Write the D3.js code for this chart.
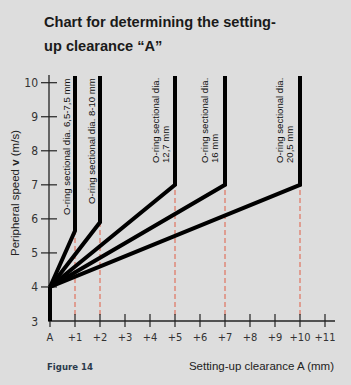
<!DOCTYPE html>
<html>
<head>
<meta charset="utf-8">
<script src="https://cdn.jsdelivr.net/npm/d3@7"></script>
<style>
  body { margin: 0; background: #dddddd; }
  svg { display: block; }
</style>
</head>
<body>
<div id="chart"></div>
<script>
var width = 351;
var height = 385;

// data
var clearance = [1, 2, 5, 7, 10];           // mm, where each curve turns vertical
var kinkSpeed = [5.65, 5.9, 7, 7, 7];        // m/s at the kink
var startSpeed = 4;
var baseSpeed = 3;
var topSpeed = 10.2;
var ringLabels = [
  ["O-ring sectional dia. 6,5-7,5 mm"],
  ["O-ring sectional dia. 8-10 mm"],
  ["O-ring sectional dia.", "12,7 mm"],
  ["O-ring sectional dia.", "16 mm"],
  ["O-ring sectional dia.", "20,5 mm"]
];
var yTicks = [3, 4, 5, 6, 7, 8, 9, 10];
var xTicks = [0, 1, 2, 3, 4, 5, 6, 7, 8, 9, 10, 11];
var xTickLabels = ["A", "+1", "+2", "+3", "+4", "+5", "+6", "+7", "+8", "+9", "+10", "+11"];

var svg = d3.select("#chart")
  .append("svg")
  .attr("width", width)
  .attr("height", height);

svg.append("rect")
  .attr("width", width)
  .attr("height", height)
  .attr("fill", "#dddddd");

var x = d3.scaleLinear().domain([0, 11]).range([50, 325]);
var y = d3.scaleLinear().domain([3, 10]).range([321, 82.7]);

var tickFont = "'DejaVu Sans Condensed', 'Liberation Sans Narrow', sans-serif";
var textFont = "'Liberation Sans', Arial, sans-serif";

// title
svg.append("text")
  .attr("x", 44).attr("y", 27)
  .style("font", "bold 14.6px " + textFont)
  .attr("fill", "#1a1a1a")
  .text("Chart for determining the setting-");
svg.append("text")
  .attr("x", 44).attr("y", 50.5)
  .style("font", "bold 14.6px " + textFont)
  .attr("fill", "#1a1a1a")
  .text("up clearance \u201cA\u201d");

// red dashed guides
svg.selectAll(".guide")
  .data(clearance)
  .enter().append("line")
  .attr("class", "guide")
  .attr("x1", function(d) { return x(d); })
  .attr("x2", function(d) { return x(d); })
  .attr("y1", y(baseSpeed) - 6)
  .attr("y2", function(d, i) { return y(kinkSpeed[i]); })
  .attr("stroke", "#e0735f")
  .attr("stroke-width", 1.2)
  .attr("stroke-dasharray", "5,3");

// axes
var yAxisG = svg.append("g");
yAxisG.append("line")
  .attr("x1", 49).attr("x2", 49)
  .attr("y1", 75).attr("y2", y(baseSpeed) + 1)
  .attr("stroke", "#222").attr("stroke-width", 1.3);
yAxisG.selectAll(".ytick")
  .data(yTicks.filter(function(d) { return d > 3; }))
  .enter().append("line")
  .attr("x1", 41).attr("x2", 57)
  .attr("y1", function(d) { return y(d); })
  .attr("y2", function(d) { return y(d); })
  .attr("stroke", "#222").attr("stroke-width", 1.2);
yAxisG.selectAll(".ylab")
  .data(yTicks)
  .enter().append("text")
  .attr("x", 38)
  .attr("y", function(d) { return y(d) + 4.5; })
  .attr("text-anchor", "end")
  .style("font", "12px " + tickFont)
  .attr("fill", "#333")
  .text(function(d) { return d; });

var xAxisG = svg.append("g");
xAxisG.append("line")
  .attr("x1", 49).attr("x2", 335)
  .attr("y1", y(baseSpeed)).attr("y2", y(baseSpeed))
  .attr("stroke", "#222").attr("stroke-width", 1.3);
xAxisG.selectAll(".xtick")
  .data(xTicks)
  .enter().append("line")
  .attr("x1", function(d) { return x(d); })
  .attr("x2", function(d) { return x(d); })
  .attr("y1", y(baseSpeed) - 7)
  .attr("y2", y(baseSpeed) + 6)
  .attr("stroke", "#222").attr("stroke-width", 1.2);
xAxisG.selectAll(".xlab")
  .data(xTicks)
  .enter().append("text")
  .attr("x", function(d) { return x(d); })
  .attr("y", 341)
  .attr("text-anchor", "middle")
  .style("font", "11px " + tickFont)
  .attr("fill", "#333")
  .text(function(d, i) { return xTickLabels[i]; });

// axis titles
var yTitle = svg.append("text")
  .attr("transform", "translate(19,193) rotate(-90)")
  .attr("text-anchor", "middle")
  .style("font", "11.5px " + textFont)
  .attr("fill", "#222");
yTitle.append("tspan").text("Peripheral speed ");
yTitle.append("tspan").style("font-weight", "bold").text("v");
yTitle.append("tspan").text(" (m/s)");

svg.append("text")
  .attr("x", 334).attr("y", 370)
  .attr("text-anchor", "end")
  .style("font", "11.5px " + textFont)
  .attr("fill", "#222")
  .text("Setting-up clearance A (mm)");

svg.append("text")
  .attr("x", 47).attr("y", 370)
  .style("font", "bold 9.5px " + tickFont)
  .attr("fill", "#2b3a4c")
  .text("Figure 14");

// thick curves
var line = d3.line()
  .x(function(d) { return x(d[0]); })
  .y(function(d) { return y(d[1]); });

svg.append("path")
  .attr("d", line([[0, baseSpeed], [0, startSpeed]]))
  .attr("fill", "none")
  .attr("stroke", "#000")
  .attr("stroke-width", 4);

svg.selectAll(".curve")
  .data(clearance)
  .enter().append("path")
  .attr("class", "curve")
  .attr("d", function(d, i) {
    return line([[0, startSpeed], [d, kinkSpeed[i]], [d, topSpeed]]);
  })
  .attr("fill", "none")
  .attr("stroke", "#000")
  .attr("stroke-width", 4)
  .attr("stroke-linejoin", "miter");

// o-ring labels (rotated)
var labelPos = [
  { cx: 69.5, bottom: 215 },
  { cx: 94.5, bottom: 204 },
  { cx: 158.5, bottom: 163 },
  { cx: 207.5, bottom: 163 },
  { cx: 282.5, bottom: 163 }
];
ringLabels.forEach(function(lines, i) {
  var t = svg.append("text")
    .attr("transform", "translate(" + labelPos[i].cx + "," + labelPos[i].bottom + ") rotate(-90)")
    .style("font", "9.6px " + textFont)
    .attr("fill", "#111");
  lines.forEach(function(s, j) {
    t.append("tspan")
      .attr("x", 0)
      .attr("dy", j === 0 ? 0 : 10.5)
      .text(s);
  });
});
</script>
</body>
</html>
